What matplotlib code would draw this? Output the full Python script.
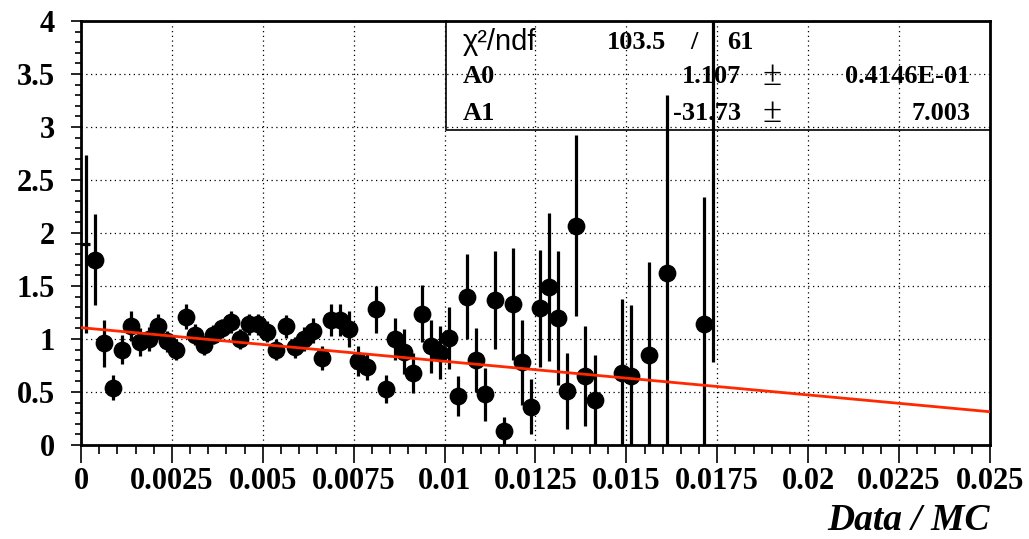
import numpy as np
import matplotlib
matplotlib.use('Agg')
import matplotlib.pyplot as plt
from matplotlib.ticker import MultipleLocator, FormatStrFormatter

# data / MC ratio per bin (bin width 0.00025)
bin_width = 0.00025
bins = [1, 2, 3, 4, 5, 6, 7, 8, 9, 10, 11, 12, 13, 14, 15, 16, 17, 18, 19, 20,
        21, 22, 23, 24, 25, 26, 27, 28, 29, 30, 31, 32, 33, 34, 35, 36, 37, 38, 39, 40,
        41, 42, 43, 44, 45, 46, 47, 48, 49, 50, 51, 52, 53, 54, 55, 56, 59, 60, 62, 64,
        68, 69]
ratio = [1.75, 0.96, 0.54, 0.90, 1.12, 0.97, 1.00, 1.12, 0.98, 0.90, 1.21, 1.04, 0.94, 1.04, 1.10, 1.16, 1.00, 1.14, 1.14, 1.07,
         0.90, 1.12, 0.92, 1.00, 1.08, 0.82, 1.18, 1.18, 1.09, 0.79, 0.74, 1.28, 0.53, 1.00, 0.88, 0.68, 1.24, 0.93, 0.87, 1.01,
         0.46, 1.40, 0.80, 0.48, 1.37, 0.13, 1.33, 0.78, 0.36, 1.29, 1.49, 1.20, 0.51, 2.07, 0.65, 0.42, 0.68, 0.65, 0.85, 1.62,
         1.14, 4.45]
ratio_err = [0.43, 0.22, 0.12, 0.14, 0.14, 0.13, 0.11, 0.12, 0.10, 0.10, 0.12, 0.10, 0.09, 0.09, 0.09, 0.10, 0.09, 0.10, 0.10, 0.10,
             0.10, 0.11, 0.10, 0.11, 0.12, 0.11, 0.15, 0.15, 0.17, 0.14, 0.13, 0.22, 0.13, 0.20, 0.21, 0.19, 0.27, 0.25, 0.25, 0.29,
             0.19, 0.40, 0.30, 0.25, 0.46, 0.13, 0.53, 0.40, 0.26, 0.55, 0.70, 0.63, 0.36, 0.85, 0.47, 0.43, 0.70, 0.67, 0.88, 1.68,
             1.20, 3.67]
# first bin is drawn without a marker
first_bin = 0
first_val = 1.90
first_err = 0.84

# linear fit result
a0 = 1.107
a1 = -31.73
chi2 = 103.5
ndf = 61
a0_err = '0.4146E-01'
a1_err = '7.003'

plt.rcParams['font.family'] = 'Liberation Serif'
plt.rcParams['font.weight'] = 'bold'

fig = plt.figure(figsize=(10.29, 5.39), dpi=100)
ax = fig.add_axes([0.0787, 0.1744, 0.8834, 0.7866])

x = (np.array(bins) + 0.5) * bin_width
ax.errorbar(x, ratio, yerr=ratio_err, xerr=bin_width / 2, fmt='o', color='black',
            markersize=11.8, elinewidth=2.3, capsize=0, zorder=4, clip_on=True)
ax.errorbar([(first_bin + 0.5) * bin_width], [first_val], yerr=[first_err], xerr=bin_width / 2,
            fmt='none', ecolor='black', elinewidth=2.3, capsize=0, zorder=4)

# fit line
fx = np.linspace(0, 0.025, 50)
ax.plot(fx, a0 + a1 * fx, color='#ff2800', linewidth=2.0, zorder=5)

ax.set_xlim(0, 0.025)
ax.set_ylim(0, 4)
ax.xaxis.set_major_locator(MultipleLocator(0.0025))
ax.xaxis.set_minor_locator(MultipleLocator(0.0005))
ax.yaxis.set_major_locator(MultipleLocator(0.5))
ax.yaxis.set_minor_locator(MultipleLocator(0.1))
ax.xaxis.set_major_formatter(FormatStrFormatter('%g'))
ax.yaxis.set_major_formatter(FormatStrFormatter('%g'))
ax.tick_params(axis='x', which='major', direction='out', length=13, width=1.2, labelsize=22, pad=3)
ax.tick_params(axis='x', which='minor', direction='out', length=6.5, width=1.2)
ax.tick_params(axis='y', which='major', direction='out', length=7.5, width=1.2, labelsize=22, pad=11)
ax.tick_params(axis='y', which='minor', direction='out', length=4.3, width=1.2)
for sp in ax.spines.values():
    sp.set_linewidth(2)
ax.grid(True, which='major', color='black', linestyle=(0, (1, 2.8)), linewidth=0.9)
ax.set_axisbelow(True)

# stats box
ax.plot([0.4015, 0.4015, 1.0], [1.0, 0.743, 0.743], transform=ax.transAxes,
        color='black', linewidth=1.2, clip_on=False, zorder=3)
tfs = 19
ax.text(0.420, 0.950, 'χ²/ndf', transform=ax.transAxes, fontsize=21,
        family='Liberation Sans', fontweight='normal', va='center', ha='left')
ax.text(0.6436, 0.950, f'{chi2:g}', transform=ax.transAxes, fontsize=tfs, va='center', ha='right')
ax.text(0.674, 0.950, '/', transform=ax.transAxes, fontsize=tfs, va='center', ha='center')
ax.text(0.7107, 0.950, f'{ndf}', transform=ax.transAxes, fontsize=tfs, va='center', ha='left')
rows = [('A0', f'{a0:.3f}', a0_err, 0.868), ('A1', f'{a1:.2f}', a1_err, 0.783)]
for name, val, err, yy in rows:
    ax.text(0.420, yy, name, transform=ax.transAxes, fontsize=tfs, va='center', ha='left')
    ax.text(0.726, yy, val, transform=ax.transAxes, fontsize=tfs, va='center', ha='right')
    ax.text(0.760, yy, '±', transform=ax.transAxes, fontsize=25, fontweight='normal',
            va='center', ha='center')
    ax.text(0.978, yy, err, transform=ax.transAxes, fontsize=tfs, va='center', ha='right')

fig.text(0.962, 0.035, 'Data / MC', fontsize=27, fontweight='bold', style='italic',
         ha='right', va='center')

fig.savefig('out.png', dpi=100)
